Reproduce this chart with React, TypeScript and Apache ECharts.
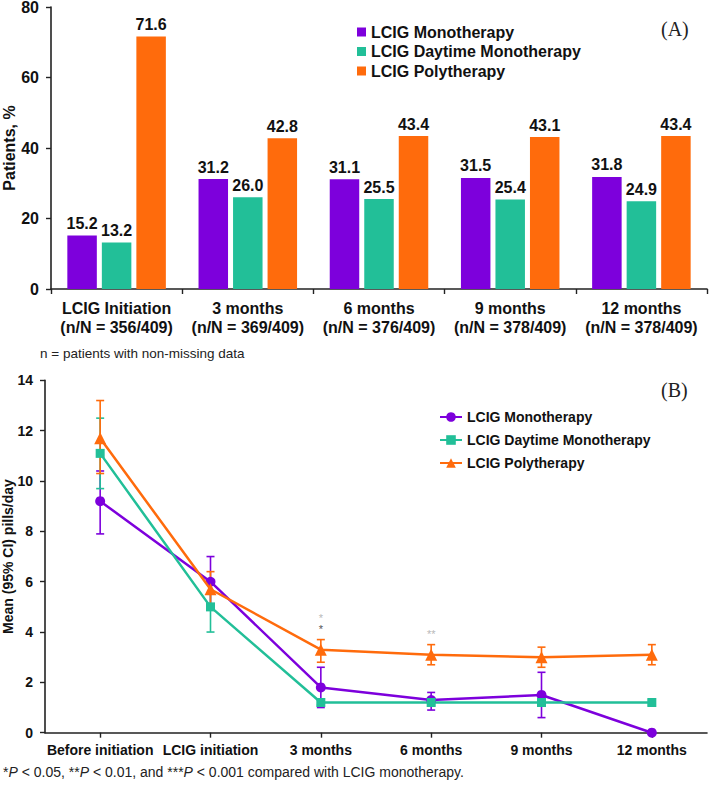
import React, { useEffect, useRef } from "react";
import * as echarts from "echarts";

// ---------- Panel A data ----------
const barCategories = [
  "LCIG Initiation\n(n/N = 356/409)",
  "3 months\n(n/N = 369/409)",
  "6 months\n(n/N = 376/409)",
  "9 months\n(n/N = 378/409)",
  "12 months\n(n/N = 378/409)",
];
const monoPct = [15.2, 31.2, 31.1, 31.5, 31.8];
const daytimePct = [13.2, 26.0, 25.5, 25.4, 24.9];
const polyPct = [71.6, 42.8, 43.4, 43.1, 43.4];

// ---------- Panel B data ----------
const lineCategories = [
  "Before initiation",
  "LCIG initiation",
  "3 months",
  "6 months",
  "9 months",
  "12 months",
];
const monoMean = [9.2, 6.0, 1.8, 1.3, 1.5, 0];
const monoLow = [7.9, 5.0, 1.0, 0.9, 0.6, null];
const monoHigh = [10.4, 7.0, 2.6, 1.6, 2.4, null];
const daytimeMean = [11.1, 5.0, 1.2, 1.2, 1.2, 1.2];
const daytimeLow = [9.7, 4.0, 1.1, 1.1, 1.1, 1.1];
const daytimeHigh = [12.5, 6.0, 1.3, 1.3, 1.3, 1.3];
const polyMean = [11.7, 5.7, 3.3, 3.1, 3.0, 3.1];
const polyLow = [10.3, 5.0, 2.8, 2.7, 2.6, 2.7];
const polyHigh = [13.2, 6.4, 3.7, 3.5, 3.4, 3.5];
// significance marks vs. LCIG monotherapy (light grey upper, dark grey lower)
const sigLight = ["", "", "*", "**", "", ""];
const sigDark = ["", "", "*", "", "", ""];

const seriesNames = ["LCIG Monotherapy", "LCIG Daytime Monotherapy", "LCIG Polytherapy"];
const PURPLE = "#7d00dc";
const TEAL = "#22bf98";
const ORANGE = "#ff6b0c";
const FONT = "'Liberation Sans', Arial, sans-serif";
const INK = "#111";

function errorSeries(name: string, color: string, low: (number | null)[], high: (number | null)[]) {
  const data: number[][] = [];
  low.forEach((lo, i) => {
    const hi = high[i];
    if (lo !== null && hi !== null) data.push([i, lo, hi]);
  });
  return {
    type: "custom",
    name,
    xAxisIndex: 0,
    yAxisIndex: 0,
    z: 1,
    encode: { x: 0, y: [1, 2] },
    data,
    renderItem: (params: any, api: any) => {
      const i = api.value(0);
      const lo = api.coord([i, api.value(1)]);
      const hi = api.coord([i, api.value(2)]);
      const cw = 4;
      const style = { stroke: color, lineWidth: 1.6 };
      return {
        type: "group",
        children: [
          { type: "line", shape: { x1: lo[0], y1: lo[1], x2: hi[0], y2: hi[1] }, style },
          { type: "line", shape: { x1: lo[0] - cw, y1: lo[1], x2: lo[0] + cw, y2: lo[1] }, style },
          { type: "line", shape: { x1: hi[0] - cw, y1: hi[1], x2: hi[0] + cw, y2: hi[1] }, style },
        ],
      };
    },
  };
}

export default function App() {
  const topRef = useRef<HTMLDivElement>(null);
  const botRef = useRef<HTMLDivElement>(null);

  useEffect(() => {
    const top = echarts.init(topRef.current!, null, { renderer: "svg" });
    const bot = echarts.init(botRef.current!, null, { renderer: "svg" });

    const axisLine = { show: true, lineStyle: { color: "#222", width: 1.6 } };
    const axisTick = { show: true, length: 5, lineStyle: { color: "#222", width: 1.4 } };

    const barLabel = {
      show: true,
      position: "top",
      distance: 4,
      fontSize: 16,
      fontWeight: "bold",
      color: INK,
      fontFamily: FONT,
      formatter: (p: any) => Number(p.value).toFixed(1),
    };

    top.setOption({
      animation: false,
      textStyle: { fontFamily: FONT },
      grid: { left: 51, right: 2, top: 7, height: 282, containLabel: false, outerBoundsMode: "none" },
      legend: {
        orient: "vertical",
        left: 352,
        top: 19,
        icon: "rect",
        itemWidth: 9,
        itemHeight: 9,
        itemGap: 3.5,
        textStyle: { fontSize: 16, fontWeight: "bold", color: INK, fontFamily: FONT },
        data: seriesNames,
      },
      xAxis: {
        type: "category",
        data: barCategories,
        axisLine,
        axisTick,
        axisLabel: {
          interval: 0,
          fontSize: 16,
          fontWeight: "bold",
          color: INK,
          margin: 10,
          lineHeight: 19,
          fontFamily: FONT,
        },
      },
      yAxis: {
        type: "value",
        min: 0,
        max: 80,
        interval: 20,
        name: "Patients, %",
        nameLocation: "middle",
        nameGap: 34,
        nameMoveOverlap: false,
        nameTextStyle: { fontSize: 16, fontWeight: "bold", color: INK, fontFamily: FONT },
        splitLine: { show: false },
        axisLine,
        axisTick,
        axisLabel: { fontSize: 16, fontWeight: "bold", color: INK, margin: 12, fontFamily: FONT },
      },
      graphic: [
        {
          type: "text",
          left: 661,
          top: 19,
          style: { text: "(A)", font: "20px 'Liberation Serif', 'Times New Roman', serif", fill: "#222" },
        },
        {
          type: "text",
          left: 40,
          top: 346,
          style: { text: "n = patients with non-missing data", font: `13.5px ${FONT}`, fill: "#222" },
        },
      ],
      series: [
        { type: "bar", name: seriesNames[0], data: monoPct, barWidth: 29.5, barGap: "17%", itemStyle: { color: PURPLE }, label: barLabel },
        { type: "bar", name: seriesNames[1], data: daytimePct, barWidth: 29.5, barGap: "17%", itemStyle: { color: TEAL }, label: barLabel },
        { type: "bar", name: seriesNames[2], data: polyPct, barWidth: 29.5, barGap: "17%", itemStyle: { color: ORANGE }, label: barLabel },
      ],
    });

    const polyData = polyMean.map((v, i) => {
      if (!sigLight[i] && !sigDark[i]) return v;
      const lines: string[] = [];
      if (sigLight[i]) lines.push(`{l|${sigLight[i]}}`);
      if (sigDark[i]) lines.push(`{d|${sigDark[i]}}`);
      return {
        value: v,
        label: {
          show: true,
          position: "top",
          distance: 9,
          formatter: lines.join("\n"),
          rich: {
            l: { fontSize: 11, color: "#b9b9b9", lineHeight: 11, fontFamily: FONT },
            d: { fontSize: 11, color: "#555", lineHeight: 11, fontFamily: FONT },
          },
        },
      };
    });

    bot.setOption({
      animation: false,
      textStyle: { fontFamily: FONT },
      grid: { left: 45, right: 2, top: 15.4, height: 352.3, containLabel: false, outerBoundsMode: "none" },
      legend: {
        orient: "vertical",
        left: 434,
        top: 40,
        itemWidth: 22,
        itemHeight: 12,
        itemGap: 9,
        textStyle: { fontSize: 14, fontWeight: "bold", color: INK, fontFamily: FONT },
        data: seriesNames,
      },
      xAxis: {
        type: "category",
        data: lineCategories,
        axisLine,
        axisTick: { ...axisTick, alignWithLabel: true },
        axisLabel: { interval: 0, fontSize: 14, fontWeight: "bold", color: INK, margin: 10, fontFamily: FONT },
      },
      yAxis: {
        type: "value",
        min: 0,
        max: 14,
        interval: 2,
        name: "Mean (95% CI) pills/day",
        nameLocation: "middle",
        nameGap: 30,
        nameMoveOverlap: false,
        nameTextStyle: { fontSize: 14, fontWeight: "bold", color: INK, fontFamily: FONT },
        splitLine: { show: false },
        axisLine,
        axisTick,
        axisLabel: { fontSize: 14, fontWeight: "bold", color: INK, margin: 12, fontFamily: FONT },
      },
      graphic: [
        {
          type: "text",
          left: 661,
          top: 15,
          style: { text: "(B)", font: "20px 'Liberation Serif', 'Times New Roman', serif", fill: "#222" },
        },
        {
          type: "text",
          left: 3,
          top: 400,
          style: {
            text:
              "{n|*}{i|P}{n| < 0.05, **}{i|P}{n| < 0.01, and ***}{i|P}{n| < 0.001 compared with LCIG monotherapy.}",
            rich: {
              n: { fontSize: 14, fontFamily: FONT, fill: "#222" },
              i: { fontSize: 14, fontFamily: FONT, fontStyle: "italic", fill: "#222" },
            },
          },
        },
      ],
      series: [
        errorSeries("ci-mono", PURPLE, monoLow, monoHigh),
        errorSeries("ci-daytime", TEAL, daytimeLow, daytimeHigh),
        errorSeries("ci-poly", ORANGE, polyLow, polyHigh),
        {
          type: "line",
          name: seriesNames[0],
          data: monoMean,
          symbol: "circle",
          symbolSize: 10,
          z: 3,
          lineStyle: { color: PURPLE, width: 2.5 },
          itemStyle: { color: PURPLE },
        },
        {
          type: "line",
          name: seriesNames[1],
          data: daytimeMean,
          symbol: "rect",
          symbolSize: 9,
          z: 3,
          lineStyle: { color: TEAL, width: 2.5 },
          itemStyle: { color: TEAL },
        },
        {
          type: "line",
          name: seriesNames[2],
          data: polyData,
          symbol: "triangle",
          symbolSize: 12,
          z: 4,
          lineStyle: { color: ORANGE, width: 2.5 },
          itemStyle: { color: ORANGE },
        },
      ],
    });

    return () => {
      top.dispose();
      bot.dispose();
    };
  }, []);

  return (
    <div style={{ position: "absolute", left: 0, top: 0, width: 709, height: 785, background: "#fff" }}>
      <div ref={topRef} style={{ position: "absolute", left: 0, top: 0, width: 709, height: 365 }} />
      <div ref={botRef} style={{ position: "absolute", left: 0, top: 365, width: 709, height: 420 }} />
    </div>
  );
}
